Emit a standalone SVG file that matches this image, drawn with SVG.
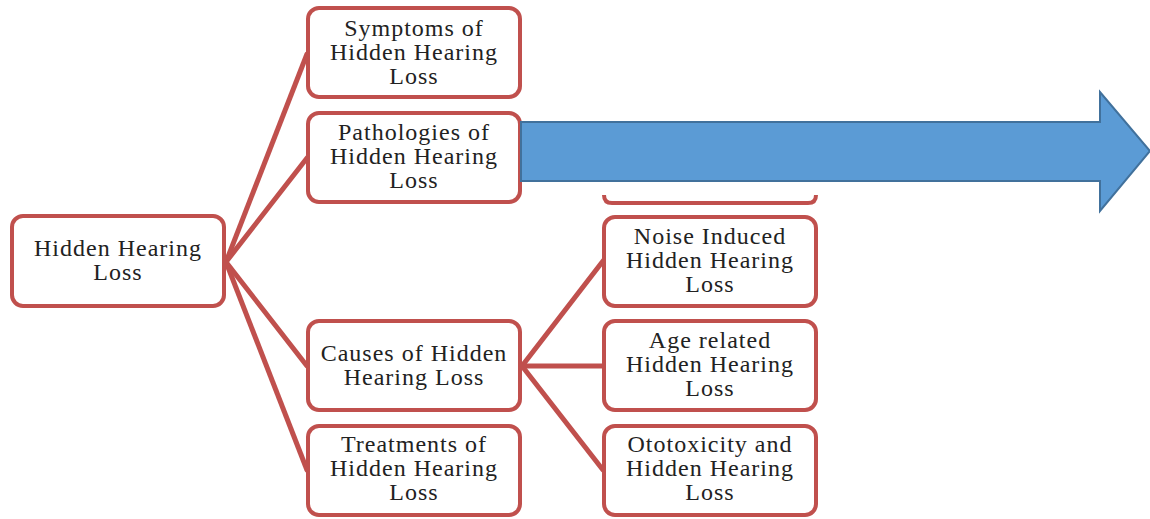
<svg xmlns="http://www.w3.org/2000/svg" width="1150" height="519" viewBox="0 0 1150 519">
<style>
.box{fill:#fff;stroke:#c0504d;stroke-width:4}
.con{stroke:#c0504d;stroke-width:5;fill:none;stroke-linecap:round}
text{font-family:"Liberation Serif","Times New Roman",serif;font-size:24px;letter-spacing:1px;fill:#222;text-anchor:middle}
</style>
<rect width="1150" height="519" fill="#fff"/>
<g id="connectors">
<line class="con" x1="226" y1="262" x2="307" y2="54"/>
<line class="con" x1="226" y1="262" x2="307" y2="158"/>
<line class="con" x1="226" y1="262" x2="307" y2="366"/>
<line class="con" x1="226" y1="262" x2="307" y2="470"/>
<line class="con" x1="522" y1="366" x2="603" y2="261"/>
<line class="con" x1="522" y1="366" x2="603" y2="366"/>
<line class="con" x1="522" y1="366" x2="603" y2="470"/>
</g>
<g id="hhl">
<rect class="box" x="12" y="216" width="212" height="90" rx="11"/>
<text><tspan x="118" y="256">Hidden Hearing</tspan><tspan x="118" y="280">Loss</tspan></text>
</g>
<g id="symptoms">
<rect class="box" x="308" y="8" width="212" height="89" rx="11"/>
<text><tspan x="414" y="36">Symptoms of</tspan><tspan x="414" y="60">Hidden Hearing</tspan><tspan x="414" y="84">Loss</tspan></text>
</g>
<g id="pathologies">
<rect class="box" x="308" y="113" width="212" height="89" rx="11"/>
<text><tspan x="414" y="140">Pathologies of</tspan><tspan x="414" y="164">Hidden Hearing</tspan><tspan x="414" y="188">Loss</tspan></text>
</g>
<g id="hidden-child">
<path class="box" d="M604,195 Q604,203 612,203 L808,203 Q816,203 816,195" fill="none"/>
</g>
<g id="causes">
<rect class="box" x="308" y="321" width="212" height="89" rx="11"/>
<text><tspan x="414" y="361">Causes of Hidden</tspan><tspan x="414" y="385">Hearing Loss</tspan></text>
</g>
<g id="treatments">
<rect class="box" x="308" y="426" width="212" height="89" rx="11"/>
<text><tspan x="414" y="452">Treatments of</tspan><tspan x="414" y="476">Hidden Hearing</tspan><tspan x="414" y="500">Loss</tspan></text>
</g>
<g id="noise">
<rect class="box" x="604" y="217" width="212" height="89" rx="11"/>
<text><tspan x="710" y="244">Noise Induced</tspan><tspan x="710" y="268">Hidden Hearing</tspan><tspan x="710" y="292">Loss</tspan></text>
</g>
<g id="age">
<rect class="box" x="604" y="321" width="212" height="89" rx="11"/>
<text><tspan x="710" y="348">Age related</tspan><tspan x="710" y="372">Hidden Hearing</tspan><tspan x="710" y="396">Loss</tspan></text>
</g>
<g id="ototoxicity">
<rect class="box" x="604" y="426" width="212" height="89" rx="11"/>
<text><tspan x="710" y="452">Ototoxicity and</tspan><tspan x="710" y="476">Hidden Hearing</tspan><tspan x="710" y="500">Loss</tspan></text>
</g>
<g id="arrow">
<polygon points="521,122 1100,122 1100,92 1150,151 1100,211 1100,181 521,181" fill="#5b9bd5" stroke="#41719c" stroke-width="2"/>
</g>
</svg>
